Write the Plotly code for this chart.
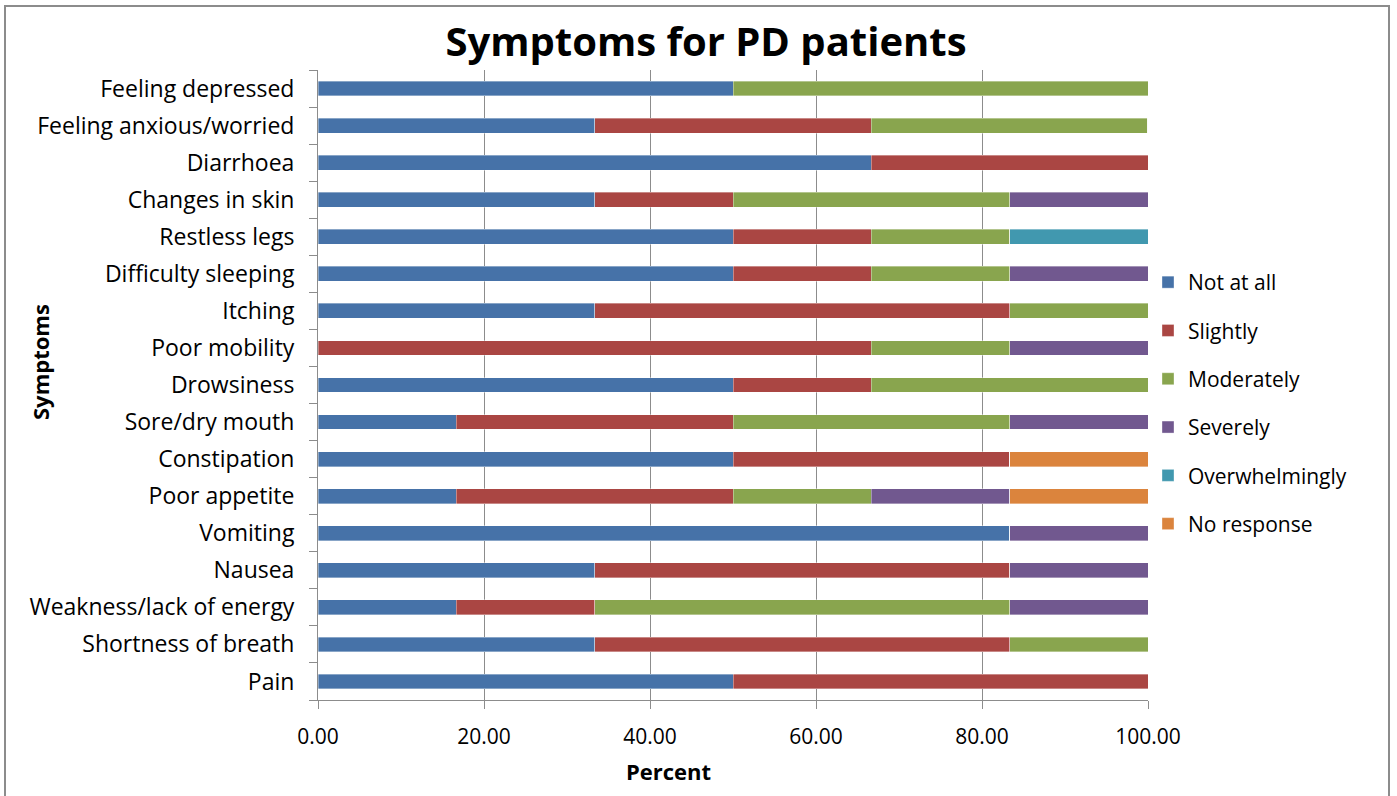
import plotly.graph_objects as go

# Symptoms listed bottom-to-top as they appear on the category axis
symptoms = [
    "Pain", "Shortness of breath", "Weakness/lack of energy", "Nausea",
    "Vomiting", "Poor appetite", "Constipation", "Sore/dry mouth",
    "Drowsiness", "Poor mobility", "Itching", "Difficulty sleeping",
    "Restless legs", "Changes in skin", "Diarrhoea",
    "Feeling anxious/worried", "Feeling depressed",
]

not_at_all     = [50.00, 33.33, 16.67, 33.33, 83.33, 16.67, 50.00, 16.67, 50.00, 0.00, 33.33, 50.00, 50.00, 33.33, 66.67, 33.33, 50.00]
slightly       = [50.00, 50.00, 16.67, 50.00, 0.00, 33.33, 33.33, 33.33, 16.67, 66.67, 50.00, 16.67, 16.67, 16.67, 33.33, 33.33, 0.00]
moderately     = [0.00, 16.67, 50.00, 0.00, 0.00, 16.67, 0.00, 33.33, 33.33, 16.67, 16.67, 16.67, 16.67, 33.33, 0.00, 33.33, 50.00]
severely       = [0.00, 0.00, 16.67, 16.67, 16.67, 16.67, 0.00, 16.67, 0.00, 16.67, 0.00, 16.67, 0.00, 16.67, 0.00, 0.00, 0.00]
overwhelmingly = [0.00, 0.00, 0.00, 0.00, 0.00, 0.00, 0.00, 0.00, 0.00, 0.00, 0.00, 0.00, 16.67, 0.00, 0.00, 0.00, 0.00]
no_response    = [0.00, 0.00, 0.00, 0.00, 0.00, 16.67, 16.67, 0.00, 0.00, 0.00, 0.00, 0.00, 0.00, 0.00, 0.00, 0.00, 0.00]

series = [
    ("Not at all", not_at_all, "#4672A8"),
    ("Slightly", slightly, "#AA4643"),
    ("Moderately", moderately, "#89A54E"),
    ("Severely", severely, "#71588F"),
    ("Overwhelmingly", overwhelmingly, "#4198AF"),
    ("No response", no_response, "#DB843D"),
]

x_ticks = [0, 20, 40, 60, 80, 100]
x_tick_labels = ["0.00", "20.00", "40.00", "60.00", "80.00", "100.00"]

FONT = "'Open Sans', sans-serif"

fig = go.Figure()
for name, vals, color in series:
    fig.add_trace(go.Bar(
        y=symptoms, x=vals, name=name, orientation="h",
        legendgroup=name,
        marker=dict(color=color, line=dict(color="rgba(255,255,255,0.6)", width=0.6)),
    ))

W, H = 1397, 796
L, R, T, B = 318, 249, 70, 96
pw, ph = W - L - R, H - T - B

fig.update_layout(
    width=W, height=H,
    barmode="stack", bargap=0.6,
    margin=dict(l=L, r=R, t=T, b=B, autoexpand=False),
    paper_bgcolor="white", plot_bgcolor="white",
    font=dict(family=FONT, size=21, color="black"),
    title=dict(text="<b>Symptoms for PD patients</b>", x=(706 - L) / pw, xref="paper",
               xanchor="center", y=1 - 42 / H, yanchor="middle",
               font=dict(size=40, family=FONT)),
    legend=dict(x=(1148 - L) / pw, xanchor="left", y=(700 - 403) / ph, yanchor="middle",
                font=dict(size=21), tracegroupgap=18, itemwidth=30,
                traceorder="grouped"),
    xaxis=dict(range=[0, 100], tickvals=x_ticks, ticktext=x_tick_labels,
               showgrid=True, gridcolor="#8C8C8C", gridwidth=1,
               showline=True, linecolor="#8C8C8C", linewidth=1,
               ticks="outside", ticklen=8, tickcolor="#8C8C8C",
               zeroline=False, tickfont=dict(size=21), ticklabelstandoff=10,
               automargin=False),
    yaxis=dict(showgrid=False, showline=True, linecolor="#8C8C8C", linewidth=1,
               ticks="outside", ticklen=8, tickcolor="#8C8C8C",
               tickson="boundaries", tickfont=dict(size=23), ticklabelstandoff=18,
               automargin=False),
)

# Axis titles
fig.add_annotation(text="<b>Symptoms</b>", textangle=-90, showarrow=False,
                   xref="paper", yref="paper", x=(40 - L) / pw, y=(700 - 362) / ph,
                   xanchor="center", yanchor="middle", font=dict(size=22))
fig.add_annotation(text="<b>Percent</b>", showarrow=False,
                   xref="paper", yref="paper", x=(668 - L) / pw, y=-(771 - 700) / ph,
                   xanchor="center", yanchor="middle", font=dict(size=22))

# Chart frame around the whole figure
fig.add_shape(type="rect", xref="paper", yref="paper",
              x0=(5 - L) / pw, x1=(1389 - L) / pw,
              y0=-(H - 1 - T - ph) / ph - 0.01, y1=1 + (T - 6) / ph,
              line=dict(color="#8C8C8C", width=2), layer="below")

fig.write_html("out.html")
